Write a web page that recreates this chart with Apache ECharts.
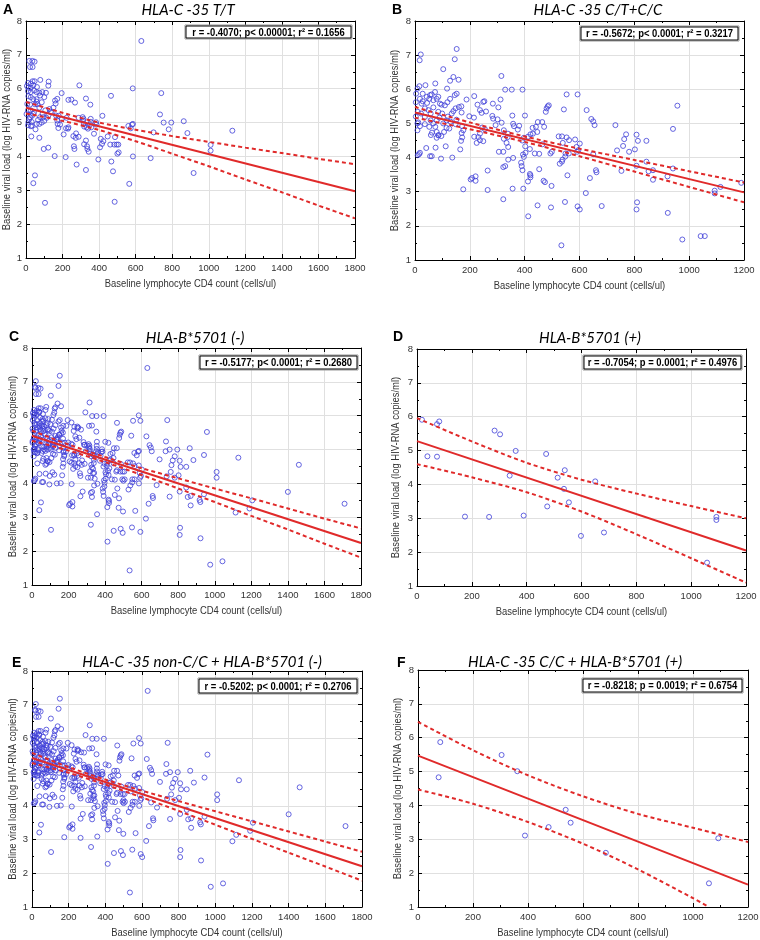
<!DOCTYPE html>
<html><head><meta charset="utf-8">
<script src="https://cdn.jsdelivr.net/npm/echarts@6/dist/echarts.min.js"></script>
<style>html,body{margin:0;padding:0;background:#fff}#c{width:760px;height:940px}</style>
</head><body><div id="c"></div>
<script>
// ---------- DATA ----------
const xTicks18 = [0,200,400,600,800,1000,1200,1400,1600,1800];
const xTicks12 = [0,200,400,600,800,1000,1200];
const yTicks = [1,2,3,4,5,6,7,8];

const titles = ["HLA-C -35 T/T","HLA-C -35 C/T+C/C","HLA-B*5701 (-)","HLA-B*5701 (+)","HLA-C -35 non-C/C + HLA-B*5701 (-)","HLA-C -35 C/C + HLA-B*5701 (+)"];
const letters = ["A","B","C","D","E","F"];
const stats = [
 "r = -0.4070; p< 0.00001; r\u00b2 = 0.1656",
 "r = -0.5672; p< 0.0001; r\u00b2 = 0.3217",
 "r = -0.5177; p< 0.0001; r\u00b2 = 0.2680",
 "r = -0.7054; p = 0.0001; r\u00b2 = 0.4976",
 "r = -0.5202; p< 0.0001; r\u00b2 = 0.2706",
 "r = -0.8218; p = 0.0019; r\u00b2 = 0.6754"];
const xName = "Baseline lymphocyte CD4 count (cells/ul)";
const yName = "Baseline viral load (log HIV-RNA copies/ml)";

// HLA-C -35 T/T patients [CD4, log VL]
const ptsA = [[631,7.41],[18,6.82],[35,6.82],[47,6.80],[22,6.64],[36,6.64],[78,6.26],[124,6.21],[122,6.09],[11,6.17],[27,6.15],[36,6.22],[47,6.22],[13,6.03],[26,6.03],[40,6.10],[11,5.93],[26,5.90],[44,5.95],[58,5.90],[73,5.88],[89,5.90],[109,5.88],[13,5.78],[26,5.75],[40,5.69],[58,5.69],[77,5.80],[100,5.75],[58,5.62],[7,5.55],[22,5.53],[49,5.54],[62,5.54],[86,5.60],[11,5.36],[26,5.36],[73,5.44],[106,5.36],[128,5.40],[135,5.32],[91,5.26],[122,5.21],[22,5.16],[33,5.20],[77,5.16],[113,5.14],[13,5.01],[31,5.02],[11,4.92],[31,4.91],[73,4.96],[95,5.16],[38,5.26],[27,4.89],[58,4.96],[86,5.00],[159,5.65],[171,5.70],[162,5.56],[171,5.06],[195,5.11],[177,4.84],[186,4.94],[179,5.20],[195,5.87],[248,5.68],[232,5.67],[268,5.59],[292,6.10],[328,5.71],[352,5.53],[288,5.14],[314,5.11],[316,4.96],[319,4.88],[206,4.65],[219,4.83],[230,4.82],[232,4.86],[259,4.60],[274,4.68],[272,4.55],[288,4.58],[310,5.16],[312,5.06],[328,4.47],[334,4.30],[336,4.22],[343,4.14],[354,5.11],[354,5.02],[350,4.94],[357,4.86],[372,4.67],[332,4.86],[339,4.82],[383,5.01],[385,4.94],[396,3.91],[405,4.27],[409,4.52],[416,4.37],[423,4.45],[418,5.20],[447,4.59],[461,4.35],[483,4.35],[496,4.35],[505,4.35],[467,3.85],[476,3.56],[485,2.66],[500,4.08],[507,4.12],[487,4.57],[565,3.19],[560,4.90],[573,4.83],[580,4.94],[585,4.96],[584,6.01],[585,4.00],[682,3.95],[698,4.71],[733,5.24],[740,5.87],[753,5.00],[781,4.80],[795,5.00],[863,5.04],[883,4.69],[917,3.51],[1010,4.34],[1010,4.17],[1129,4.76],[465,5.79],[104,2.63],[40,3.21],[49,3.44],[29,4.59],[73,4.55],[97,4.22],[122,4.26],[157,4.01],[217,3.98],[277,3.76],[328,3.60],[150,5.44],[164,5.21],[173,4.96],[222,5.14],[262,4.30],[265,4.22],[318,4.36],[18,5.10],[44,5.30],[66,5.08],[100,5.05],[140,5.30],[5,6.08],[60,6.05],[3,5.25],[52,4.80]];

// HLA-C -35 C/T + C/C patients (CD4 <= 1200)
const ptsB = [[152,7.18],[21,7.02],[17,6.85],[103,6.59],[145,6.88],[315,6.39],[140,6.36],[128,6.25],[159,6.28],[74,6.17],[38,6.12],[117,6.02],[329,5.99],[353,5.99],[392,5.99],[152,5.87],[553,5.85],[593,5.85],[145,5.83],[216,5.80],[312,5.70],[128,5.72],[188,5.70],[249,5.63],[284,5.58],[228,5.55],[169,5.50],[304,5.47],[480,5.44],[484,5.50],[488,5.53],[477,5.34],[543,5.41],[626,5.39],[643,5.13],[650,5.06],[655,4.95],[957,5.52],[941,4.84],[731,4.95],[737,4.21],[763,4.54],[770,4.68],[808,4.67],[813,4.49],[844,4.49],[802,4.24],[759,4.34],[781,4.17],[753,3.61],[808,3.76],[844,3.88],[852,3.60],[868,3.63],[868,3.35],[921,3.45],[941,3.68],[1093,3.03],[1093,2.95],[1114,3.14],[1190,3.26],[922,2.38],[975,1.60],[1042,1.70],[1057,1.70],[810,2.69],[808,2.48],[601,2.48],[593,2.57],[547,2.70],[623,2.96],[681,2.58],[534,1.43],[413,2.28],[447,2.60],[496,2.54],[498,3.17],[322,2.78],[356,3.09],[395,3.09],[176,3.07],[265,3.05],[203,3.36],[208,3.40],[221,3.45],[221,3.32],[265,3.62],[421,3.48],[421,3.42],[419,3.52],[412,3.30],[469,3.32],[474,3.28],[453,3.66],[556,3.48],[638,3.40],[660,3.63],[662,3.57],[392,3.63],[389,3.75],[387,3.85],[329,3.75],[322,3.72],[340,3.94],[358,3.99],[394,4.09],[397,4.02],[403,4.14],[402,4.33],[419,4.25],[465,4.39],[437,4.12],[453,4.11],[494,4.12],[499,4.17],[528,3.82],[536,3.88],[538,3.94],[548,4.03],[549,4.12],[561,4.12],[591,4.17],[596,4.22],[589,4.31],[601,4.41],[524,4.62],[536,4.62],[553,4.59],[562,4.51],[584,4.53],[429,4.87],[441,4.90],[448,5.04],[464,5.04],[430,4.70],[446,4.75],[375,4.82],[380,4.93],[361,4.92],[358,4.99],[355,5.23],[401,5.23],[391,4.50],[397,4.58],[412,4.61],[421,4.68],[316,5.02],[301,5.12],[294,4.95],[324,4.80],[339,4.70],[338,4.60],[324,4.55],[334,4.43],[340,4.31],[322,4.17],[306,4.17],[245,4.88],[255,4.83],[237,4.70],[231,4.60],[237,4.51],[249,4.48],[216,4.61],[225,4.43],[259,5.35],[282,5.22],[285,5.14],[253,5.65],[243,5.31],[237,5.39],[215,5.17],[198,5.21],[170,5.32],[148,5.44],[160,5.48],[140,5.36],[134,5.29],[151,5.11],[148,4.98],[172,4.92],[176,4.80],[170,4.72],[172,4.59],[168,4.49],[165,4.24],[136,4.00],[95,3.97],[55,4.04],[61,4.04],[15,4.10],[10,4.07],[18,4.14],[112,4.33],[41,4.28],[75,4.29],[79,4.58],[85,4.65],[58,4.66],[96,4.63],[12,5.03],[9,4.80],[4,5.87],[9,6.02],[16,6.09],[28,5.87],[18,5.72],[52,5.72],[43,5.78],[55,5.83],[61,5.85],[73,5.92],[85,5.78],[28,5.65],[67,5.68],[79,5.72],[91,5.58],[36,5.44],[49,5.39],[57,5.29],[67,5.47],[85,5.34],[109,5.53],[89,5.17],[99,5.29],[36,5.19],[22,5.29],[10,5.34],[9,5.00],[36,4.98],[52,4.90],[67,5.00],[74,4.90],[103,5.00],[115,5.09],[115,4.87],[18,4.92],[57,5.09],[79,5.09],[62,4.73],[79,4.75],[86,4.66],[106,4.75],[97,5.55],[118,5.62],[24,5.58],[3,5.62],[3,5.20],[44,5.60],[125,4.85],[120,5.20],[130,5.05],[471,4.90],[539,4.43],[650,4.10]];
// C/T + C/C patients with CD4 above 1200 (outside panel B's axis)
const ptsBHigh = [[1205,3.50],[1400,3.75],[1460,4.55],[1710,3.40]];

// HLA-B*5701 (+) patients
const ptsD = [[18,5.91],[38,4.83],[73,5.78],[81,5.86],[73,4.82],[175,3.05],[263,3.04],[283,5.59],[303,5.48],[360,4.99],[338,4.26],[389,3.08],[471,4.90],[475,3.35],[513,4.20],[536,3.87],[539,4.42],[554,3.47],[598,2.48],[650,4.09],[682,2.58],[1058,1.69],[1092,3.04],[1092,2.95]];
// HLA-C -35 C/C + HLA-B*5701 (+) patients
const ptsF = [[81,5.87],[75,4.83],[304,5.49],[361,5.01],[389,3.11],[475,3.36],[537,3.87],[555,3.49],[683,2.60],[1058,1.70],[1092,3.03]];

// regression lines (end points)
const lineA = [[0,5.44],[1800,2.97]];
const lineB = [[0,5.32],[1200,2.98]];
const lineC = [[0,5.41],[1800,2.24]];
const lineD = [[0,5.28],[1200,2.05]];
const lineE = [[0,5.42],[1800,2.21]];
const lineF = [[0,5.47],[1200,1.66]];

// 95% confidence bands read at x ticks
const upA = [5.61,5.29,5.00,4.79,4.60,4.43,4.26,4.10,3.93,3.77];
const loA = [5.27,5.05,4.78,4.45,4.08,3.71,3.32,2.94,2.55,2.17];
const upB = [5.48,5.03,4.62,4.26,3.93,3.60,3.27];
const loB = [5.17,4.83,4.46,4.04,3.59,3.14,2.69];
const upC = [5.56,5.15,4.78,4.45,4.15,3.85,3.56,3.26,2.96,2.67];
const loC = [5.26,4.97,4.63,4.25,3.85,3.45,3.04,2.64,2.22,1.81];
const upD = [5.96,5.27,4.64,4.14,3.73,3.36,3.00];
const loD = [4.60,4.21,3.77,3.20,2.53,1.82,1.10];
const upE = [5.57,5.15,4.78,4.45,4.14,3.84,3.54,3.24,2.94,2.64];
const loE = [5.27,4.98,4.63,4.25,3.85,3.44,3.02,2.61,2.20,1.78];
const upF = [6.47,5.63,4.89,4.27,3.75,3.34,2.92];
const loFX = [0,200,400,600,800,1000,1057];
const loF = [4.47,4.05,3.51,2.87,2.11,1.26,1.00];

// ---------- BUILD ----------
const allPts = ptsA.concat(ptsB, ptsBHigh);
function without(base, rem){
  const out = base.slice();
  rem.forEach(p=>{
    let bi=-1, bd=Infinity;
    out.forEach((q,i)=>{const d=Math.abs(q[0]-p[0])/60+Math.abs(q[1]-p[1])/0.25; if(d<bd){bd=d;bi=i;}});
    if(bi>=0 && bd<1) out.splice(bi,1);
  });
  return out;
}
const ptsC = without(allPts, ptsD);
const ptsE = without(allPts, ptsF);
const zip = (xs, ys) => xs.map((x,i)=>[x, ys[i]]);

const FN = "'Liberation Sans',Arial,sans-serif";
const NARROW = 0.82;
const layout = [
 {g:{left:26,top:21,width:329,height:237}, xt:xTicks18, pts:ptsA, line:lineA, up:zip(xTicks18,upA), lo:zip(xTicks18,loA), yc:7, tc:[188,10], lp:[3,10], box:[186,26,165,12]},
 {g:{left:415,top:21,width:329,height:239}, xt:xTicks12, pts:ptsB, line:lineB, up:zip(xTicks12,upB), lo:zip(xTicks12,loB), yc:395, tc:[598,10], lp:[392,10], box:[581,27,157,13]},
 {g:{left:32,top:348,width:329,height:237}, xt:xTicks18, pts:ptsC, line:lineC, up:zip(xTicks18,upC), lo:zip(xTicks18,loC), yc:13, tc:[195,338], lp:[9,337], box:[200,356,157,13]},
 {g:{left:417,top:349,width:329,height:237}, xt:xTicks12, pts:ptsD, line:lineD, up:zip(xTicks12,upD), lo:zip(xTicks12,loD), yc:396, tc:[590,338], lp:[393,337], box:[584,356,157,13]},
 {g:{left:32,top:671,width:330,height:236}, xt:xTicks18, pts:ptsE, line:lineE, up:zip(xTicks18,upE), lo:zip(xTicks18,loE), yc:13, tc:[202,662], lp:[12,663], box:[199,679,158,14]},
 {g:{left:418,top:670,width:330,height:237}, xt:xTicks12, pts:ptsF, line:lineF, up:zip(xTicks12,upF), lo:zip(loFX,loF), yc:398, tc:[575,662], lp:[397,663], box:[583,679,159,13]}
];

const grid=[], xAxis=[], yAxis=[], series=[], graphic=[];
const RED = '#e02a2a', BLUE = '#4040d8', GRID = '#e0e0e0';
const plain = v => String(v);
layout.forEach((p,i)=>{
  grid.push(Object.assign({outerBoundsMode:'none', show:false}, p.g));
  const xmax = p.xt[p.xt.length-1];
  const common = {type:'value', gridIndex:i, min:0, max:xmax, interval:200,
    axisLine:{show:true, onZero:false, lineStyle:{color:'#000', width:1}},
    axisTick:{show:true, inside:true, length:4, lineStyle:{color:'#000'}},
    minorTick:{show:true, splitNumber:2, length:2, lineStyle:{color:'#000'}}};
  xAxis.push(Object.assign({}, common, {position:'bottom',
    axisLabel:{fontFamily:FN, fontSize:9.5, color:'#333', margin:5, formatter:plain},
    splitLine:{show:true, lineStyle:{color:GRID}}}));
  xAxis.push(Object.assign({}, common, {position:'top', axisLabel:{show:false}, splitLine:{show:false}}));
  const ycommon = {type:'value', gridIndex:i, min:1, max:8, interval:1,
    axisLine:{show:true, onZero:false, lineStyle:{color:'#000', width:1}},
    axisTick:{show:true, inside:true, length:4, lineStyle:{color:'#000'}},
    minorTick:{show:true, splitNumber:2, length:2, lineStyle:{color:'#000'}}};
  yAxis.push(Object.assign({}, ycommon, {position:'left',
    axisLabel:{fontFamily:FN, fontSize:9.5, color:'#333', margin:4, formatter:plain},
    splitLine:{show:true, lineStyle:{color:GRID}}}));
  yAxis.push(Object.assign({}, ycommon, {position:'right', axisLabel:{show:false}, splitLine:{show:false}}));
  const xi = i*2, yi = i*2;
  series.push({type:'scatter', xAxisIndex:xi, yAxisIndex:yi, data:p.pts, symbol:'circle', symbolSize:5,
    itemStyle:{color:'rgba(255,255,255,0)', borderColor:BLUE, borderWidth:1}, silent:true, clip:true});
  series.push({type:'line', xAxisIndex:xi, yAxisIndex:yi, data:p.line, showSymbol:false, symbol:'none',
    lineStyle:{color:RED, width:2}, silent:true, clip:true});
  [p.up, p.lo].forEach(d=>series.push({type:'line', xAxisIndex:xi, yAxisIndex:yi, data:d, smooth:0.3, showSymbol:false, symbol:'none',
    lineStyle:{color:RED, width:2, type:[4,3]}, silent:true, clip:true}));
  const g = p.g;
  graphic.push({type:'text', x:g.left+g.width/2, y:g.top+g.height+26, scaleX:NARROW, z:100,
    style:{text:xName, font:'11.5px '+FN, fill:'#333', align:'center', verticalAlign:'middle'}});
  graphic.push({type:'text', x:p.yc, y:g.top+g.height/2, rotation:Math.PI/2, scaleX:NARROW, z:100,
    style:{text:yName, font:'11.5px '+FN, fill:'#333', align:'center', verticalAlign:'middle'}});
  graphic.push({type:'text', x:p.tc[0], y:p.tc[1], z:100, style:{text:titles[i], font:'italic 15px Lato', fill:'#000', align:'center', verticalAlign:'middle'}});
  graphic.push({type:'text', x:p.lp[0], y:p.lp[1], z:100, style:{text:letters[i], font:"bold 14px 'Liberation Sans'", fill:'#000', align:'left', verticalAlign:'middle'}});
  const b = p.box;
  graphic.push({type:'rect', z:100, shape:{x:b[0]-1, y:b[1]-1, width:b[2]+2, height:b[3]+2}, style:{fill:'#fff', stroke:'#999', lineWidth:1}});
  graphic.push({type:'rect', z:101, shape:{x:b[0], y:b[1], width:b[2], height:b[3]}, style:{fill:'#fff', stroke:'#000', lineWidth:1}});
  graphic.push({type:'text', z:102, x:b[0]+b[2]/2, y:b[1]+b[3]/2+0.5, scaleX:NARROW, style:{text:stats[i], font:'bold 11.5px '+FN, fill:'#000', align:'center', verticalAlign:'middle'}});
});

const chart = echarts.init(document.getElementById('c'), null, {renderer:'canvas'});
chart.setOption({animation:false, backgroundColor:'#fff', grid, xAxis, yAxis, series, graphic});
</script></body></html>
